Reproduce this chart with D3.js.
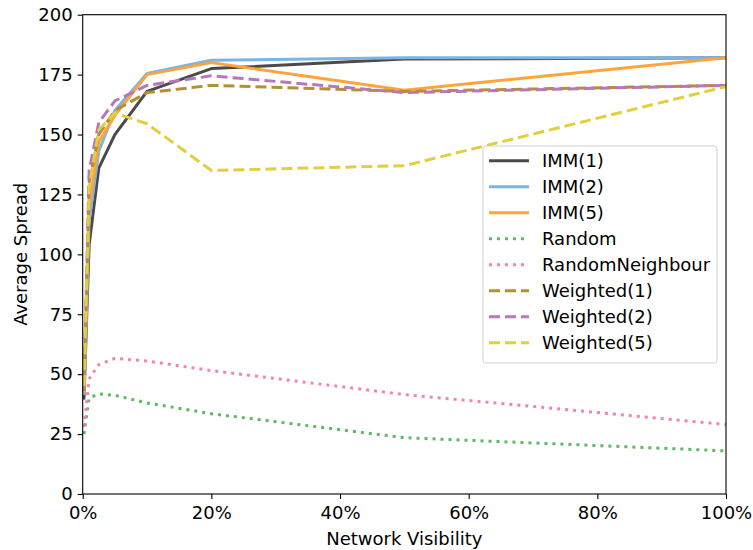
<!DOCTYPE html>
<html>
<head>
<meta charset="utf-8">
<script src="https://cdn.jsdelivr.net/npm/d3@7"></script>
<style>
body { margin:0; background:#fff; }
text { font-family: "DejaVu Sans", sans-serif; }
</style>
</head>
<body>
<script>
// visibility fractions
var xs = [0.002, 0.01, 0.025, 0.05, 0.1, 0.2, 0.5, 1.0];

var imm1 = [40, 104, 136, 150, 168, 177.5, 181.5, 182];
var imm2 = [42, 114, 143, 160, 175.5, 181, 182, 182];
var imm5 = [43, 120, 147, 158, 175, 180, 168.5, 182];
var random = [25, 40, 41.8, 41.2, 38, 33.5, 23.5, 18];
var randomNb = [28, 48, 54, 56.6, 55.5, 51.5, 41.5, 29];
var weighted1 = [43, 130, 150, 160, 167.5, 170.5, 168, 170.5];
var weighted2 = [44, 135, 155, 164, 170.5, 174.5, 167.5, 170.5];
var weighted5 = [45, 128, 152, 159, 154.5, 135, 137, 170];

var xTicks = [0, 0.2, 0.4, 0.6, 0.8, 1.0];
var yTicks = [0, 25, 50, 75, 100, 125, 150, 175, 200];

var series = [
  { name:"IMM(1)", values:imm1, color:"#4a4a4a", dash:null },
  { name:"IMM(2)", values:imm2, color:"#7db4e2", dash:null },
  { name:"IMM(5)", values:imm5, color:"#fda43c", dash:null },
  { name:"Random", values:random, color:"#5cba64", dash:"3,5" },
  { name:"RandomNeighbour", values:randomNb, color:"#f382b8", dash:"3,5" },
  { name:"Weighted(1)", values:weighted1, color:"#b39030", dash:"11,5" },
  { name:"Weighted(2)", values:weighted2, color:"#b777b8", dash:"11,5" },
  { name:"Weighted(5)", values:weighted5, color:"#e0cf3e", dash:"11,5" }
];

var W = 753, H = 550, FS = "18px";
var m = { left:82.7, top:14.7, right:27, bottom:56 };

var svg = d3.select("body").append("svg")
  .attr("width", W).attr("height", H);

var x = d3.scaleLinear().domain([0, 1]).range([m.left, W - m.right]);
var y = d3.scaleLinear().domain([0, 200]).range([H - m.bottom, m.top]);

svg.append("clipPath").attr("id", "clip")
  .append("rect")
  .attr("x", m.left).attr("y", m.top)
  .attr("width", W - m.right - m.left).attr("height", H - m.bottom - m.top);

var line = d3.line()
  .x(function(d, i){ return x(xs[i]); })
  .y(function(d){ return y(d); });

var lines = svg.append("g").attr("clip-path", "url(#clip)");
series.forEach(function(s){
  lines.append("path")
    .attr("d", line(s.values))
    .attr("fill", "none")
    .attr("stroke", s.color)
    .attr("stroke-width", 3)
    .attr("stroke-dasharray", s.dash)
    .attr("stroke-linejoin", "round")
    .attr("stroke-linecap", s.dash ? "butt" : "square");
});

// axes
var xAxis = svg.append("g")
  .attr("transform", "translate(0," + (H - m.bottom) + ")")
  .call(d3.axisBottom(x).tickValues(xTicks).tickSize(5).tickPadding(7)
    .tickFormat(d3.format(".0%")));
var yAxis = svg.append("g")
  .attr("transform", "translate(" + m.left + ",0)")
  .call(d3.axisLeft(y).tickValues(yTicks).tickSize(5).tickPadding(5));

[xAxis, yAxis].forEach(function(a){
  a.select(".domain").remove();
  a.selectAll("line").attr("stroke", "#000").attr("stroke-width", 1.1);
  a.selectAll("text").attr("fill", "#000").style("font-size", FS)
    .style("font-family", "DejaVu Sans");
});

// frame
svg.append("rect")
  .attr("x", m.left).attr("y", m.top)
  .attr("width", W - m.right - m.left).attr("height", H - m.bottom - m.top)
  .attr("fill", "none").attr("stroke", "#000").attr("stroke-width", 1.1);

svg.append("text")
  .attr("x", (m.left + W - m.right) / 2).attr("y", 545)
  .attr("text-anchor", "middle").style("font-size", FS)
  .text("Network Visibility");

svg.append("text")
  .attr("transform", "translate(27," + ((m.top + H - m.bottom) / 2) + ") rotate(-90)")
  .attr("text-anchor", "middle").style("font-size", FS)
  .text("Average Spread");

// legend
var leg = svg.append("g").attr("transform", "translate(483,146)");
leg.append("rect")
  .attr("width", 234).attr("height", 217).attr("rx", 3)
  .attr("fill", "#fff").attr("fill-opacity", 0.8)
  .attr("stroke", "#d0d0d0").attr("stroke-width", 1);

var item = leg.selectAll("g.item").data(series).enter().append("g")
  .attr("transform", function(d, i){ return "translate(0," + (14.7 + i * 26) + ")"; });
item.append("line")
  .attr("x1", 6).attr("x2", 46)
  .attr("stroke", function(d){ return d.color; })
  .attr("stroke-width", 3)
  .attr("stroke-dasharray", function(d){ return d.dash; });
item.append("text")
  .attr("x", 59).attr("dy", "0.36em")
  .style("font-size", FS)
  .text(function(d){ return d.name; });
</script>
</body>
</html>
